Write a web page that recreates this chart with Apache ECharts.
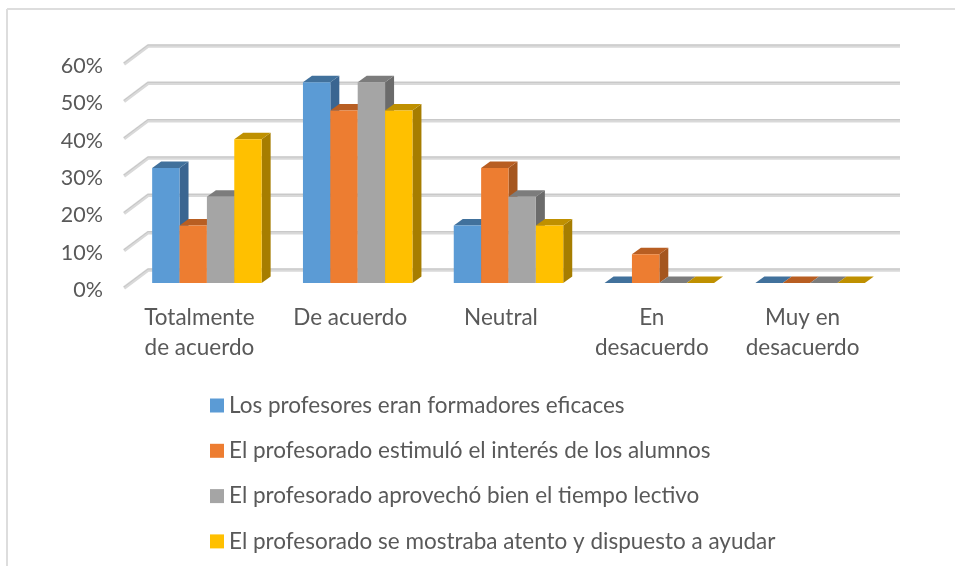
<!DOCTYPE html>
<html>
<head>
<meta charset="utf-8">
<script src="https://cdn.jsdelivr.net/npm/echarts@6/dist/echarts.min.js"></script>
<style>
html, body { margin: 0; padding: 0; background: #fff; }
#chart { width: 955px; height: 566px; }
</style>
</head>
<body>
<div id="chart"></div>
<script>
var categories = ['Totalmente\nde acuerdo', 'De acuerdo', 'Neutral', 'En\ndesacuerdo', 'Muy en\ndesacuerdo'];
var yTicks = [0, 10, 20, 30, 40, 50, 60];
var serieEficaces = [30.8, 53.8, 15.4, 0, 0];
var serieInteres = [15.4, 46.2, 30.8, 7.7, 0];
var serieTiempo = [23.1, 53.8, 23.1, 0, 0];
var serieAtento = [38.5, 46.2, 15.4, 0, 0];
var nombres = [
	'Los profesores eran formadores eficaces',
	'El profesorado estimuló el interés de los alumnos',
	'El profesorado aprovechó bien el tiempo lectivo',
	'El profesorado se mostraba atento y dispuesto a ayudar'
];
var frontColors = ['#5B9BD5', '#ED7D31', '#A5A5A5', '#FFC000'];
var topColors = ['#41719C', '#B85E22', '#7C7C7C', '#BF9000'];
var sideColors = ['#3A6591', '#A5561F', '#6B6B6B', '#A67D00'];

var font = 'Lato, "Open Sans", sans-serif';
var textColor = '#595959';

// draw one 3d column, front plane is moved a bit into the wall depth
function barRenderer(idx){
	return function(params, api){
		var catWidth = api.size([1, 0])[0];
		var w = catWidth * 0.1815;
		var base = api.coord([api.value(0), 0]);
		var top = api.coord([api.value(0), api.value(1)]);
		var x0 = base[0] + 7.5 + (idx - 2) * w;
		var x1 = x0 + w;
		var y0 = base[1] - 5;
		var y1 = top[1] - 5;
		var dx = 9, dy = -6.5;
		var children = [];
		if(y0 - y1 > 0.5){
			children.push({
				type: 'polygon',
				shape: {points: [[x1, y1], [x1 + dx, y1 + dy], [x1 + dx, y0 + dy], [x1, y0]]},
				style: {fill: sideColors[idx]}
			});
		}
		children.push({
			type: 'polygon',
			shape: {points: [[x0, y1], [x0 + dx, y1 + dy], [x1 + dx, y1 + dy], [x1, y1]]},
			style: {fill: topColors[idx]}
		});
		if(y0 - y1 > 0.5){
			children.push({
				type: 'rect',
				shape: {x: x0, y: y1, width: w, height: y0 - y1},
				style: {fill: frontColors[idx]}
			});
		}
		return {type: 'group', children: children};
	};
}

// side wall and back wall lines
function wallRenderer(params, api){
	var p = api.coord([0, api.value(0)]);
	var left = params.coordSys.x;
	var right = left + params.coordSys.width + 22;
	var y = p[1];
	var pts = [[left, y], [left + 24, y - 18], [right, y - 18]];
	return {
		type: 'group',
		children: [
			{type: 'polyline', shape: {points: pts}, style: {fill: null, stroke: '#D9D9D9', lineWidth: 3.5}},
			{type: 'polyline', shape: {points: [[left, y - 1], [left + 24, y - 19], [right, y - 19]]}, style: {fill: null, stroke: '#C6C6C6', lineWidth: 1}}
		]
	};
}

function barData(arr){
	var out = [];
	for(var i = 0; i < arr.length; i++)
		out.push([i, arr[i]]);
	return out;
}

var wallData = [];
for(var i = 0; i < yTicks.length; i++)
	wallData.push([yTicks[i]]);

var seriesValues = [serieEficaces, serieInteres, serieTiempo, serieAtento];
var series = [{
	type: 'custom',
	name: 'walls',
	renderItem: wallRenderer,
	data: wallData,
	encode: {y: 0},
	silent: true,
	z: 1
}];
for(var s = 0; s < seriesValues.length; s++){
	series.push({
		type: 'custom',
		name: nombres[s],
		renderItem: barRenderer(s),
		data: barData(seriesValues[s]),
		encode: {x: 0, y: 1},
		itemStyle: {color: frontColors[s]},
		z: 2 + s
	});
}

var chart = echarts.init(document.getElementById('chart'));
chart.setOption({
	animation: false,
	backgroundColor: '#fff',
	grid: {left: 124, right: 77, top: 64, bottom: 278},
	xAxis: {
		type: 'category',
		data: categories,
		axisLine: {show: false},
		axisTick: {show: false},
		axisLabel: {
			interval: 0,
			margin: 15,
			color: textColor,
			fontFamily: font,
			fontSize: 22.5,
			lineHeight: 30
		}
	},
	yAxis: {
		type: 'value',
		min: 0,
		max: 60,
		interval: 10,
		axisLine: {show: false},
		axisTick: {show: false},
		splitLine: {show: false},
		axisLabel: {
			margin: 21,
			color: textColor,
			fontFamily: font,
			fontSize: 21.5,
			verticalAlign: 'top',
			lineHeight: 4,
			formatter: '{value}%'
		}
	},
	legend: {
		orient: 'vertical',
		left: 205,
		top: 388,
		data: nombres,
		icon: 'rect',
		itemWidth: 14,
		itemHeight: 14,
		itemGap: 20.3,
		textStyle: {
			color: textColor,
			fontFamily: font,
			fontSize: 22.5,
			lineHeight: 25
		}
	},
	graphic: [
		{type: 'line', shape: {x1: 7, y1: 9, x2: 955, y2: 9}, style: {stroke: '#DDDDDD', lineWidth: 2}},
		{type: 'line', shape: {x1: 7, y1: 9, x2: 7, y2: 566}, style: {stroke: '#DDDDDD', lineWidth: 2}}
	],
	series: series
});
</script>
</body>
</html>
